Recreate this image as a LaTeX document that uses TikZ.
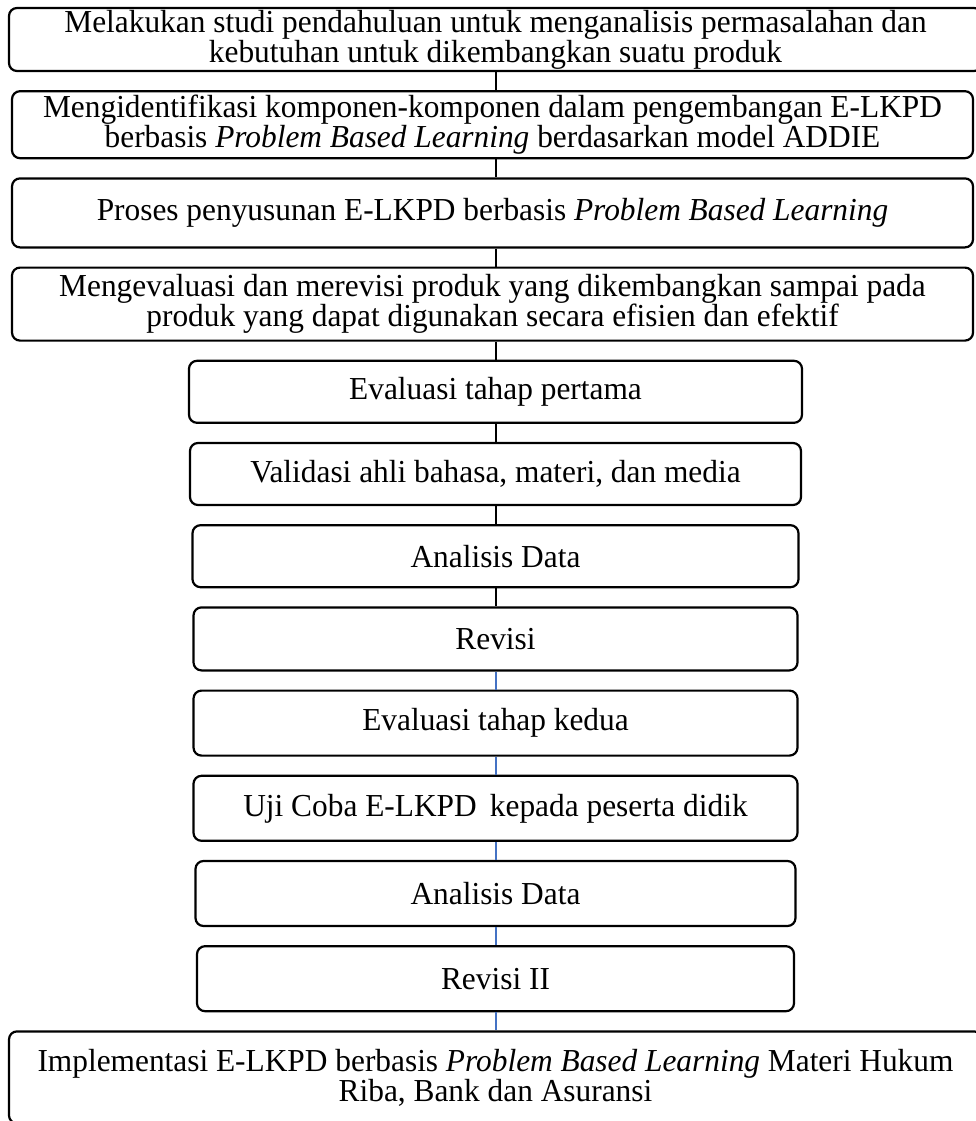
\documentclass[tikz,border=0pt]{standalone}
\usepackage{fontspec}
\setmainfont{Liberation Serif}[FakeStretch=0.98]
\usepackage{tikz}
\usetikzlibrary{positioning}
\definecolor{lineblue}{HTML}{4472C4}

\begin{document}
\begin{tikzpicture}[x=1pt, y=1pt,
    bigbox/.style={draw, line width=2.2pt, rounded corners=8pt, fill=white,
                align=center, minimum width=961pt, inner sep=1pt,
                font=\fontsize{32pt}{29pt}\selectfont},
    stepbox/.style={draw, line width=2.2pt, rounded corners=8pt, fill=white,
                align=center, minimum width=604pt, minimum height=62pt,
                font=\fontsize{32pt}{29pt}\selectfont},
    conn/.style={line width=2pt, black},
    connb/.style={line width=2pt, lineblue}
  ]
    \useasboundingbox (0,0) rectangle (976,-1121);
    \clip (0,0) rectangle (976,-1121);
    % tahap awal (kotak lebar)
    \node[bigbox, minimum width=973pt, minimum height=63pt] (s1) at (495.5,-39.5)
      {Melakukan studi pendahuluan untuk menganalisis permasalahan dan\\kebutuhan untuk dikembangkan suatu produk};
    \node[bigbox, minimum height=67pt, below=18pt of s1, xshift=-3pt] (s2)
      {Mengidentifikasi komponen-komponen dalam pengembangan E-LKPD\\berbasis \textit{Problem Based Learning} berdasarkan model ADDIE};
    \node[bigbox, minimum height=69pt, below=18pt of s2] (s3)
      {Proses penyusunan E-LKPD berbasis \textit{Problem Based Learning}};
    \node[bigbox, minimum height=73pt, below=18pt of s3] (s4)
      {Mengevaluasi dan merevisi produk yang dikembangkan sampai pada\\produk yang dapat digunakan secara efisien dan efektif};
    % evaluasi
    \node[stepbox, minimum width=613pt, below=18pt of s4, xshift=3pt] (e1) {Evaluasi tahap pertama};
    \node[stepbox, minimum width=611pt, below=18pt of e1] (e2) {Validasi ahli bahasa, materi, dan media};
    \node[stepbox, minimum width=606pt, below=18pt of e2] (e3) {Analisis Data};
    \node[stepbox, minimum height=63pt, below=18pt of e3] (e4) {Revisi};
    \node[stepbox, minimum height=65pt, below=18pt of e4] (e5) {Evaluasi tahap kedua};
    \node[stepbox, minimum height=65pt, below=18pt of e5] (e6) {Uji Coba E-LKPD\, kepada peserta didik};
    \node[stepbox, minimum width=600pt, minimum height=65pt, below=18pt of e6] (e7) {Analisis Data};
    \node[stepbox, minimum width=597pt, minimum height=65pt, below=18pt of e7] (e8) {Revisi II};
    \node[bigbox, minimum width=973pt, minimum height=92pt, below=18pt of e8] (s5)
      {Implementasi E-LKPD berbasis \textit{Problem Based Learning} Materi Hukum\\Riba, Bank dan Asuransi};
    % garis penghubung
    \draw[conn] (s1.south) -- (s1.south |- s2.north);
    \draw[conn] (s1.south |- s2.south) -- (s1.south |- s3.north);
    \draw[conn] (s1.south |- s3.south) -- (s1.south |- s4.north);
    \draw[conn] (s1.south |- s4.south) -- (s1.south |- e1.north);
    \draw[conn] (e1.south) -- (e2.north);
    \draw[conn] (e2.south) -- (e3.north);
    \draw[conn] (e3.south) -- (e4.north);
    \draw[connb] (e4.south) -- (e5.north);
    \draw[connb] (e5.south) -- (e6.north);
    \draw[connb] (e6.south) -- (e7.north);
    \draw[connb] (e7.south) -- (e8.north);
    \draw[connb] (e8.south) -- (e8.south |- s5.north);
  \end{tikzpicture}
\end{document}
